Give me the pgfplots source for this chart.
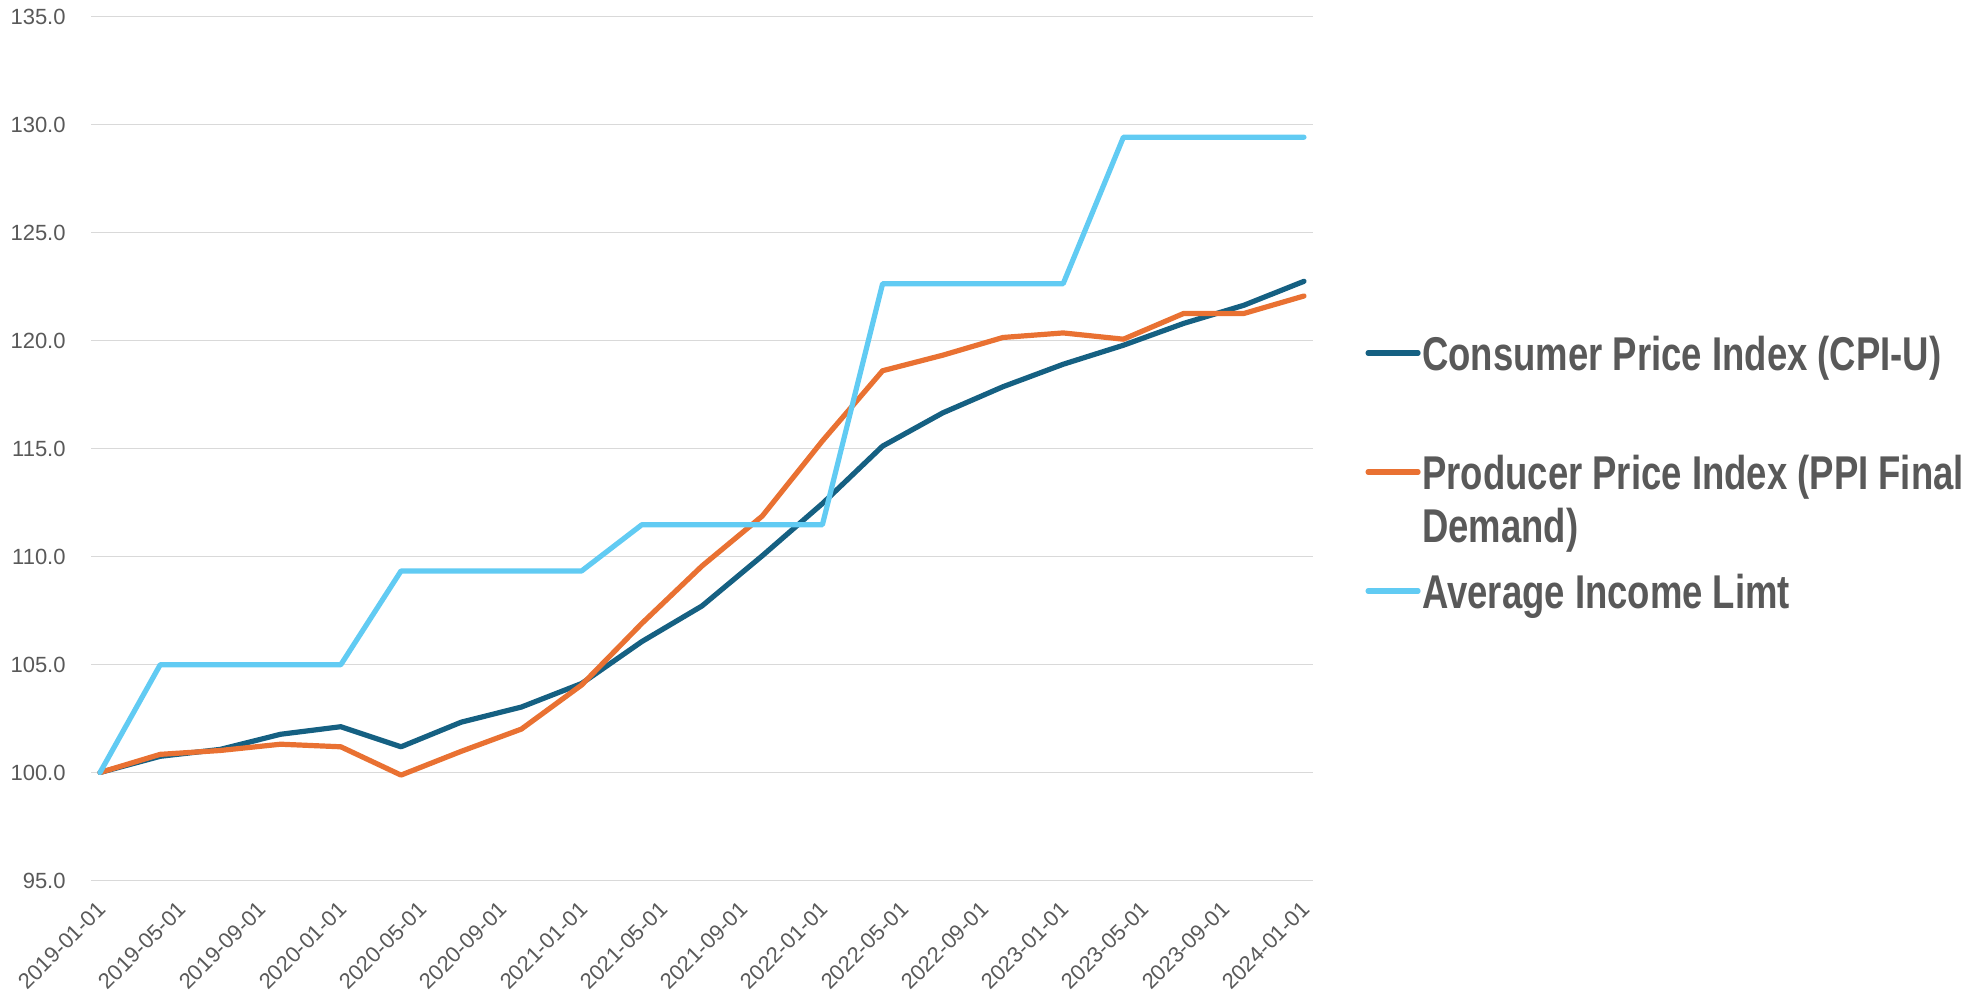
\documentclass[border=0pt]{standalone}
\usepackage{fontspec}
\setmainfont{Liberation Sans}
\newfontfamily\legfont[FakeStretch=0.77]{Liberation Sans}
\usepackage{pgfplots}
\usepackage{pgfplotstable}
\pgfplotsset{compat=1.18}
\definecolor{cpi}{HTML}{156082}
\definecolor{ppi}{HTML}{E97132}
\definecolor{avg}{HTML}{61CBF3}
\definecolor{gridc}{HTML}{D9D9D9}
\definecolor{txt}{HTML}{595959}
\pgfplotstableread{
m cpi ppi avg
0 100 100 100
3 100.75 100.84 104.99
6 101.07 101.02 104.99
9 101.77 101.31 104.99
12 102.12 101.19 104.99
15 101.19 99.88 109.33
18 102.33 100.98 109.33
21 103.03 102.01 109.33
24 104.12 104.05 109.33
27 106.06 106.9 111.47
30 107.71 109.56 111.47
33 110.03 111.87 111.47
36 112.45 115.35 111.47
39 115.11 118.6 122.63
42 116.65 119.32 122.63
45 117.86 120.14 122.63
48 118.9 120.35 122.63
51 119.78 120.06 129.41
54 120.79 121.25 129.41
57 121.63 121.25 129.41
60 122.74 122.06 129.41
}\datatable
\newcommand{\lstrut}{\rule[-6pt]{0pt}{29pt}}
\begin{document}
\begin{tikzpicture}
\begin{axis}[
  scale only axis,
  width=611pt, height=432pt,
  xmin=-0.45, xmax=60.45,
  ymin=95, ymax=135,
  xtick={0,4,...,60},
  xticklabels={2019-01-01,2019-05-01,2019-09-01,2020-01-01,2020-05-01,2020-09-01,2021-01-01,2021-05-01,2021-09-01,2022-01-01,2022-05-01,2022-09-01,2023-01-01,2023-05-01,2023-09-01,2024-01-01},
  ytick={95,100,...,135},
  yticklabel style={/pgf/number format/.cd, fixed, fixed zerofill, precision=1, /tikz/.cd},
  /pgf/number format/assume math mode=true,
  ymajorgrids,
  grid style={gridc, line width=0.9pt},
  axis line style={draw=none},
  major tick length=0pt,
  tick label style={font=\fontsize{11}{13}\selectfont, text=txt},
  xticklabel style={anchor=east, inner sep=0pt, xshift=1pt, yshift=-12.5pt, rotate=45},
  yticklabel style={anchor=east, inner sep=0pt, xshift=-12.5pt},
  legend style={at={(rel axis cs:1.0426,0.4728)}, anchor=west, draw=none, fill=none,
    inner sep=0pt, row sep=0.75pt, column sep=0.8pt,
    nodes={inner sep=0pt, text depth=, font=\legfont\bfseries\fontsize{23.7}{28}\selectfont, text=txt},
    cells={anchor=west}},
  legend image code/.code={\draw[#1, line width=2.6pt, line cap=round] (0pt,0pt) -- (25pt,0pt);},
  every axis plot/.append style={line width=2.6pt, line cap=round, line join=round, mark=none},
]
\addplot[cpi] table[x=m, y=cpi] {\datatable};
\addlegendentry{\lstrut Consumer Price Index (CPI-U)}
\addlegendimage{empty legend}
\addlegendentry{\lstrut}
\addplot[ppi] table[x=m, y=ppi] {\datatable};
\addlegendentry{\lstrut Producer Price Index (PPI Final}
\addlegendimage{empty legend}
\addlegendentry{\raisebox{3.2pt}[23pt][6pt]{Demand)}}
\addplot[avg] table[x=m, y=avg] {\datatable};
\addlegendentry{\lstrut Average Income Limt}
\end{axis}
\pgfresetboundingbox
\path[use as bounding box] (-45.5pt,-56.75pt) rectangle (947pt,440.25pt);
\end{tikzpicture}
\end{document}
